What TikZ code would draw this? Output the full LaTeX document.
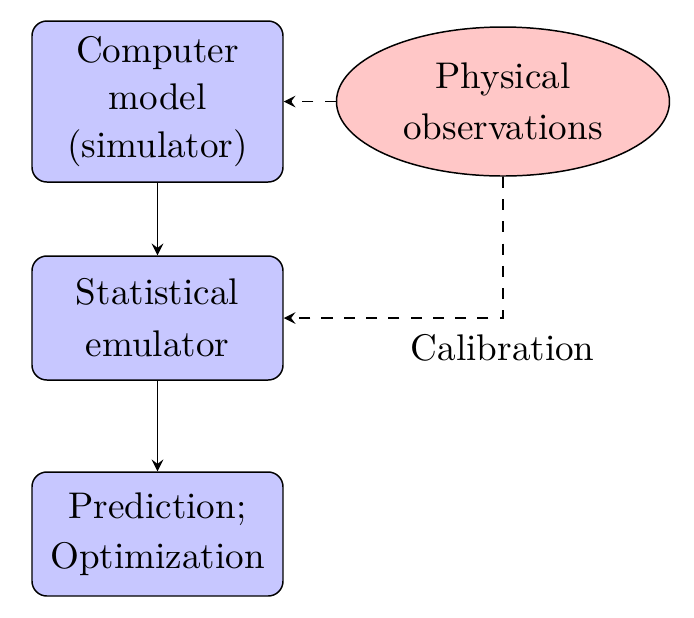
\documentclass[tikz,border=0pt]{standalone}
\usetikzlibrary{shapes.geometric,arrows}
\begin{document}
\begin{tikzpicture}[x=0.26954pt,y=-0.26954pt,
  blockbox/.style={draw, rounded corners=4pt, fill=blue!22, align=center,
    minimum width=251*0.26954pt, inner sep=0pt, line width=0.4pt},
  obsnode/.style={draw, ellipse, fill=red!22, align=center,
    minimum width=333*0.26954pt, minimum height=149*0.26954pt, inner sep=0pt},
  flow/.style={-stealth, line width=0.4pt},
  dflow/.style={-stealth, dashed, line width=0.4pt}]
\useasboundingbox (0,0) rectangle (694,618);
\node[blockbox, minimum height=161*0.26954pt] (sim) at (157.5,101.5)
  {Computer\\[0.8pt]model\\[0.8pt](simulator)};
\node[blockbox, minimum height=124*0.26954pt] (emu) at (157.5,318)
  {Statistical\\[2pt]emulator};
\node[blockbox, minimum height=124*0.26954pt] (pred) at (157.5,534)
  {Prediction;\\[1.5pt]Optimization};
\node[obsnode] (obs) at (503,101.5) {Physical\\[1.75pt]observations};
\coordinate (corner) at (obs.south |- emu.east);
\node[anchor=base] (cal) at (502.7,360) {Calibration};
\draw[flow] (sim) -- (emu);
\draw[flow] (emu) -- (pred);
\draw[dflow] (obs.west) -- (sim.east);
\draw[dflow] (obs.south) -- (corner) -- (emu.east);
\end{tikzpicture}
\end{document}
